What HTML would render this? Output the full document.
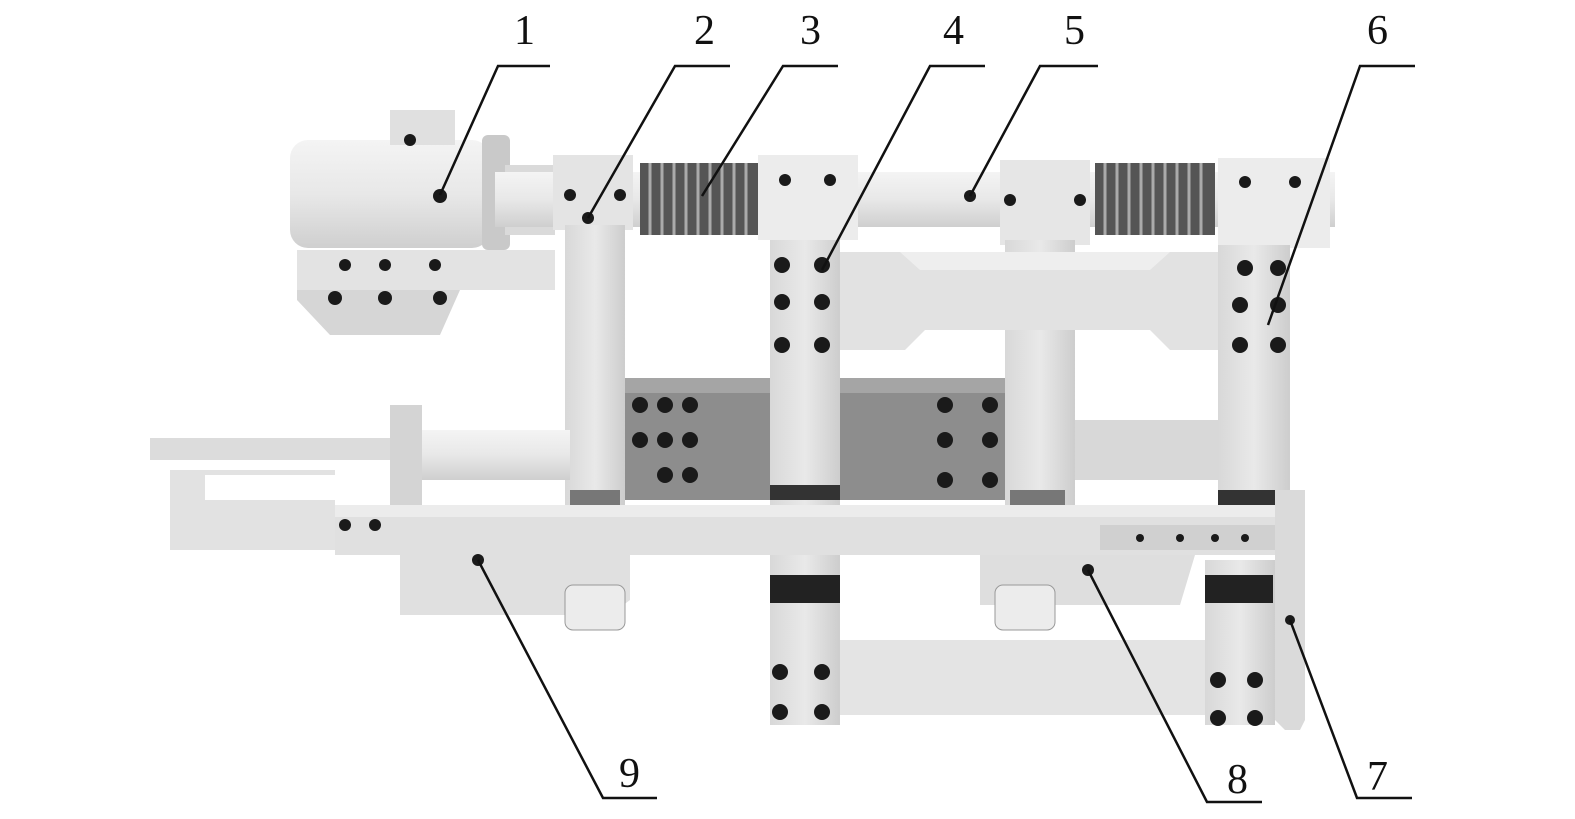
<!DOCTYPE html>
<html><head><meta charset="utf-8"><style>
html,body{margin:0;padding:0;background:#fff;}
svg{display:block;}
text{font-family:"Liberation Serif",serif;font-size:42px;fill:#111;}
</style></head><body>
<svg width="1575" height="819" viewBox="0 0 1575 819" xmlns="http://www.w3.org/2000/svg">
<defs>
<linearGradient id="cyl" x1="0" y1="0" x2="0" y2="1">
<stop offset="0" stop-color="#f4f4f4"/><stop offset="0.5" stop-color="#e8e8e8"/><stop offset="1" stop-color="#cfcfcf"/></linearGradient>
<linearGradient id="col" x1="0" y1="0" x2="1" y2="0">
<stop offset="0" stop-color="#d8d8d8"/><stop offset="0.5" stop-color="#e9e9e9"/><stop offset="1" stop-color="#cdcdcd"/></linearGradient>
</defs>
<rect width="1575" height="819" fill="#fff"/>

<!-- dark middle plate -->
<rect x="620" y="378" width="395" height="122" fill="#8d8d8d"/>
<rect x="620" y="378" width="395" height="15" fill="#a5a5a5"/>
<rect x="1070" y="420" width="160" height="60" fill="#d8d8d8"/>

<!-- motor 1 -->
<path d="M297 255 H555 L545 290 H460 L440 335 H330 L297 300 Z" fill="#d6d6d6"/>
<rect x="297" y="250" width="258" height="40" fill="#e3e3e3"/>
<rect x="290" y="140" width="200" height="108" rx="18" fill="url(#cyl)"/>
<rect x="390" y="110" width="65" height="35" fill="#e0e0e0"/>
<rect x="482" y="135" width="28" height="115" rx="6" fill="#c9c9c9"/>
<rect x="505" y="165" width="50" height="70" fill="#dadada"/>

<!-- top shaft -->
<rect x="495" y="172" width="840" height="55" fill="url(#cyl)"/>
<!-- springs -->
<g fill="#333">
<rect x="640" y="163" width="120" height="72" fill="#555"/>
<rect x="1095" y="163" width="120" height="72" fill="#555"/>
</g>
<g stroke="#aaa" stroke-width="3">
<path d="M650 163V235M662 163V235M674 163V235M686 163V235M698 163V235M710 163V235M722 163V235M734 163V235M746 163V235"/>
<path d="M1105 163V235M1117 163V235M1129 163V235M1141 163V235M1153 163V235M1165 163V235M1177 163V235M1189 163V235M1201 163V235"/>
</g>

<!-- top blocks -->
<rect x="553" y="155" width="80" height="75" fill="#e4e4e4"/>
<rect x="758" y="155" width="100" height="85" fill="#ececec"/>
<rect x="1000" y="160" width="90" height="85" fill="#e6e6e6"/>
<rect x="1218" y="158" width="112" height="90" fill="#ececec"/>

<!-- columns -->
<rect x="565" y="225" width="60" height="290" fill="url(#col)"/>
<rect x="570" y="490" width="50" height="25" fill="#777"/>
<rect x="1005" y="240" width="70" height="270" fill="url(#col)"/>
<rect x="1010" y="490" width="55" height="25" fill="#777"/>
<path d="M830 252 H1230 V350 H1170 L1150 330 H925 L905 350 H830 Z" fill="#e2e2e2"/>
<path d="M830 252 H900 L920 270 H1150 L1170 252 Z" fill="#eeeeee"/>
<rect x="770" y="240" width="70" height="285" fill="url(#col)"/>
<rect x="770" y="485" width="70" height="15" fill="#333"/>
<rect x="1218" y="245" width="72" height="260" fill="url(#col)"/>
<rect x="1218" y="490" width="60" height="15" fill="#333"/>

<!-- left cylinder -->
<rect x="150" y="438" width="245" height="22" fill="#dcdcdc"/>
<rect x="170" y="470" width="165" height="80" fill="#e2e2e2"/>
<rect x="205" y="475" width="130" height="25" fill="#fff"/>
<rect x="420" y="430" width="150" height="50" fill="url(#cyl)"/>
<rect x="390" y="405" width="32" height="105" fill="#d4d4d4"/>

<!-- rail -->
<rect x="335" y="505" width="970" height="50" fill="#e0e0e0"/>
<rect x="335" y="505" width="970" height="12" fill="#ececec"/>
<rect x="1100" y="525" width="190" height="25" fill="#d0d0d0"/>

<!-- lower housings -->
<path d="M400 540 H630 V600 L610 615 H400 Z" fill="#e0e0e0"/>
<rect x="565" y="585" width="60" height="45" rx="8" fill="#ececec" stroke="#999"/>
<path d="M980 555 H1195 L1180 605 H980 Z" fill="#dedede"/>
<rect x="995" y="585" width="60" height="45" rx="8" fill="#ececec" stroke="#999"/>

<!-- lower frame -->
<rect x="770" y="555" width="70" height="170" fill="url(#col)"/>
<rect x="770" y="575" width="70" height="28" fill="#222"/>
<path d="M840 640 H1210 V715 H840 Z" fill="#e4e4e4"/>
<rect x="1205" y="560" width="70" height="165" fill="url(#col)"/>
<rect x="1205" y="575" width="68" height="28" fill="#222"/>
<path d="M1275 490 H1305 V720 L1300 730 H1285 L1275 720 Z" fill="#dadada"/>

<!-- bolts -->
<g fill="#1a1a1a">
<circle cx="440" cy="196" r="7"/><circle cx="410" cy="140" r="6"/>
<circle cx="345" cy="265" r="6"/><circle cx="385" cy="265" r="6"/><circle cx="435" cy="265" r="6"/>
<circle cx="335" cy="298" r="7"/><circle cx="385" cy="298" r="7"/><circle cx="440" cy="298" r="7"/>
<circle cx="570" cy="195" r="6"/><circle cx="620" cy="195" r="6"/><circle cx="588" cy="218" r="6"/>
<circle cx="785" cy="180" r="6"/><circle cx="830" cy="180" r="6"/>
<circle cx="970" cy="196" r="6"/><circle cx="1010" cy="200" r="6"/><circle cx="1080" cy="200" r="6"/>
<circle cx="1245" cy="182" r="6"/><circle cx="1295" cy="182" r="6"/>
<circle cx="782" cy="265" r="8"/><circle cx="822" cy="265" r="8"/><circle cx="782" cy="302" r="8"/><circle cx="822" cy="302" r="8"/><circle cx="782" cy="345" r="8"/><circle cx="822" cy="345" r="8"/>
<circle cx="1245" cy="268" r="8"/><circle cx="1278" cy="268" r="8"/><circle cx="1240" cy="305" r="8"/><circle cx="1278" cy="305" r="8"/><circle cx="1240" cy="345" r="8"/><circle cx="1278" cy="345" r="8"/>
<circle cx="640" cy="405" r="8"/><circle cx="665" cy="405" r="8"/><circle cx="690" cy="405" r="8"/><circle cx="640" cy="440" r="8"/><circle cx="665" cy="440" r="8"/><circle cx="690" cy="440" r="8"/><circle cx="665" cy="475" r="8"/><circle cx="690" cy="475" r="8"/>
<circle cx="945" cy="405" r="8"/><circle cx="990" cy="405" r="8"/><circle cx="945" cy="440" r="8"/><circle cx="990" cy="440" r="8"/><circle cx="945" cy="480" r="8"/><circle cx="990" cy="480" r="8"/>
<circle cx="345" cy="525" r="6"/><circle cx="375" cy="525" r="6"/><circle cx="478" cy="560" r="6"/><circle cx="1088" cy="570" r="6"/>
<circle cx="1140" cy="538" r="4"/><circle cx="1180" cy="538" r="4"/><circle cx="1215" cy="538" r="4"/><circle cx="1245" cy="538" r="4"/>
<circle cx="780" cy="672" r="8"/><circle cx="822" cy="672" r="8"/><circle cx="780" cy="712" r="8"/><circle cx="822" cy="712" r="8"/>
<circle cx="1218" cy="680" r="8"/><circle cx="1255" cy="680" r="8"/><circle cx="1218" cy="718" r="8"/><circle cx="1255" cy="718" r="8"/>
<circle cx="1290" cy="620" r="5"/>
</g>

<!-- leaders -->
<g stroke="#111" stroke-width="2.5" fill="none">
<path d="M550 66 H498 L440 195"/>
<path d="M730 66 H675 L588 218"/>
<path d="M838 66 H783 L702 196"/>
<path d="M985 66 H930 L822 270"/>
<path d="M1098 66 H1040 L970 196"/>
<path d="M1415 66 H1360 L1268 325"/>
<path d="M1412 798 H1357 L1290 620"/>
<path d="M1262 802 H1207 L1088 570"/>
<path d="M657 798 H603 L478 560"/>
</g>
<text x="514" y="44">1</text>
<text x="694" y="44">2</text>
<text x="800" y="44">3</text>
<text x="943" y="44">4</text>
<text x="1064" y="44">5</text>
<text x="1367" y="44">6</text>
<text x="1367" y="790">7</text>
<text x="1227" y="793">8</text>
<text x="619" y="787">9</text>
</svg>
</body></html>
